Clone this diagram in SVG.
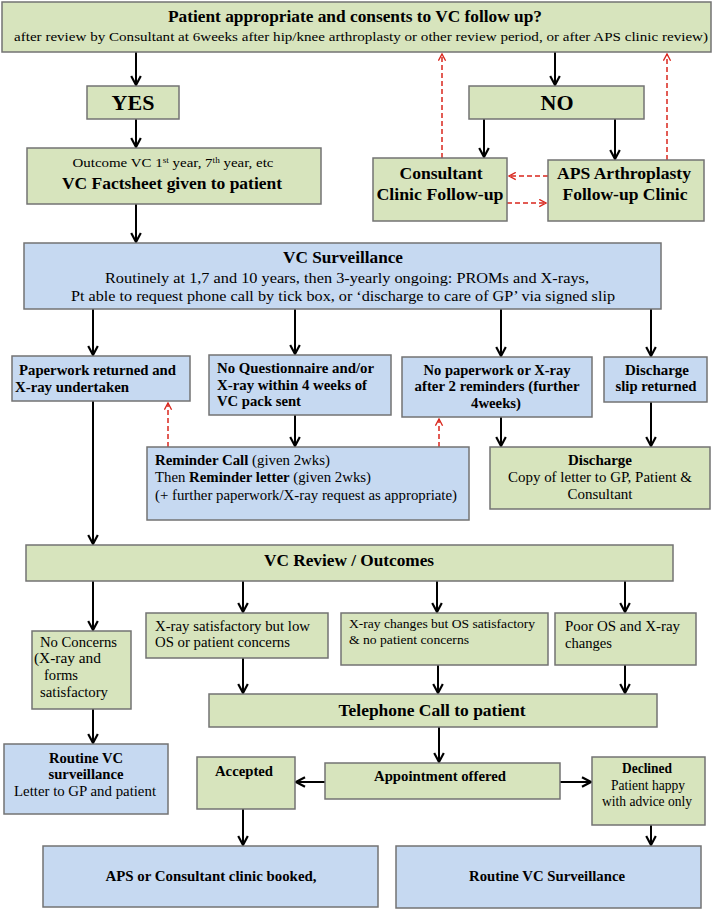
<svg xmlns="http://www.w3.org/2000/svg" width="714" height="911" viewBox="0 0 714 911">
<defs>
<marker id="ab" viewBox="0 0 10 10" refX="9" refY="5" markerWidth="12" markerHeight="12" markerUnits="userSpaceOnUse" orient="auto">
<path d="M1.5,1 L9,5 L1.5,9" fill="none" stroke="#000" stroke-width="1.8"/>
</marker>
<marker id="ar" viewBox="0 0 10 10" refX="9" refY="5" markerWidth="9" markerHeight="9" markerUnits="userSpaceOnUse" orient="auto">
<path d="M1.5,1 L9,5 L1.5,9" fill="none" stroke="#d9261c" stroke-width="1.5"/>
</marker>
</defs>
<style>
.g{fill:#d7e4bd;stroke:#737373;stroke-width:1.5}
.b{fill:#c6d9f1;stroke:#737373;stroke-width:1.5}
text{font-family:"Liberation Serif","Times New Roman",serif;fill:#000}
.c{text-anchor:middle}
.h{font-weight:bold}
.k{stroke:#000;stroke-width:2;fill:none;marker-end:url(#ab)}
.r{stroke:#d9261c;stroke-width:1.5;fill:none;stroke-dasharray:5,3;marker-end:url(#ar)}
</style>
<rect width="714" height="911" fill="#fff"/>

<g id="connectors">
<line class="k" x1="136" y1="52" x2="136" y2="85"/>
<line class="k" x1="136" y1="119" x2="136" y2="147"/>
<line class="k" x1="136" y1="204" x2="136" y2="242"/>
<line class="k" x1="555" y1="52" x2="555" y2="85"/>
<line class="k" x1="484" y1="119" x2="484" y2="157"/>
<line class="k" x1="615" y1="119" x2="615" y2="159"/>
<line class="r" x1="442" y1="158" x2="442" y2="54"/>
<line class="r" x1="667" y1="160" x2="667" y2="54"/>
<line class="r" x1="548" y1="176" x2="509" y2="176"/>
<line class="r" x1="507" y1="203" x2="546" y2="203"/>
<line class="k" x1="93" y1="309" x2="93" y2="355"/>
<line class="k" x1="295" y1="309" x2="295" y2="354"/>
<line class="k" x1="501" y1="309" x2="501" y2="356"/>
<line class="k" x1="651" y1="309" x2="651" y2="356"/>
<line class="k" x1="295" y1="415" x2="295" y2="446"/>
<line class="k" x1="501" y1="417" x2="501" y2="446"/>
<line class="k" x1="651" y1="402" x2="651" y2="446"/>
<line class="r" x1="168" y1="447" x2="168" y2="403"/>
<line class="r" x1="439" y1="447" x2="439" y2="419"/>
<line class="k" x1="93" y1="401" x2="93" y2="544"/>
<line class="k" x1="93" y1="581" x2="93" y2="630"/>
<line class="k" x1="243" y1="581" x2="243" y2="612"/>
<line class="k" x1="437" y1="581" x2="437" y2="612"/>
<line class="k" x1="625" y1="581" x2="625" y2="612"/>
<line class="k" x1="243" y1="658" x2="243" y2="693"/>
<line class="k" x1="438" y1="665" x2="438" y2="693"/>
<line class="k" x1="625" y1="665" x2="625" y2="693"/>
<line class="k" x1="93" y1="709" x2="93" y2="743"/>
<line class="k" x1="439" y1="727" x2="439" y2="762"/>
<line class="k" x1="325" y1="782" x2="296" y2="782"/>
<line class="k" x1="560" y1="782" x2="591" y2="782"/>
<line class="k" x1="243" y1="809" x2="243" y2="845"/>
<line class="k" x1="651" y1="825" x2="651" y2="845"/>
</g>

<g id="n-top">
<rect class="g" x="2" y="2" width="709" height="50"/>
<text class="c h" x="355" y="22" font-size="16" textLength="374" lengthAdjust="spacingAndGlyphs">Patient appropriate and consents to VC follow up?</text>
<text class="c" x="361" y="41" font-size="13" textLength="694" lengthAdjust="spacingAndGlyphs">after review by Consultant at 6weeks after hip/knee arthroplasty or other review period, or after APS clinic review)</text>
</g>

<g id="n-yes">
<rect class="g" x="87" y="86" width="92" height="33"/>
<text class="c h" x="133" y="110" font-size="22">YES</text>
</g>

<g id="n-no">
<rect class="g" x="469" y="86" width="175" height="33"/>
<text class="c h" x="557" y="110" font-size="22">NO</text>
</g>

<g id="n-factsheet">
<rect class="g" x="27" y="148" width="294" height="56"/>
<text class="c" x="173" y="167" font-size="13" textLength="201" lengthAdjust="spacingAndGlyphs">Outcome VC 1<tspan font-size="8" dy="-4">st</tspan><tspan dy="4"> year, 7</tspan><tspan font-size="8" dy="-4">th</tspan><tspan dy="4"> year, etc</tspan></text>
<text class="c h" x="172" y="189" font-size="16" textLength="220" lengthAdjust="spacingAndGlyphs">VC Factsheet given to patient</text>
</g>

<g id="n-consultant">
<rect class="g" x="373" y="158" width="134" height="63"/>
<text class="c h" x="441" y="179" font-size="16" textLength="83" lengthAdjust="spacingAndGlyphs">Consultant</text>
<text class="c h" x="440" y="200" font-size="16" textLength="127" lengthAdjust="spacingAndGlyphs">Clinic Follow-up</text>
</g>

<g id="n-aps">
<rect class="g" x="548" y="160" width="156" height="61"/>
<text class="c h" x="624" y="179" font-size="16" textLength="134" lengthAdjust="spacingAndGlyphs">APS Arthroplasty</text>
<text class="c h" x="625" y="200" font-size="16" textLength="125" lengthAdjust="spacingAndGlyphs">Follow-up Clinic</text>
</g>

<g id="n-surveillance">
<rect class="b" x="24" y="243" width="637" height="66"/>
<text class="c h" x="343" y="263" font-size="16" textLength="120" lengthAdjust="spacingAndGlyphs">VC Surveillance</text>
<text class="c" x="347" y="283" font-size="14.5" textLength="484" lengthAdjust="spacingAndGlyphs">Routinely at 1,7 and 10 years, then 3-yearly ongoing: PROMs and X-rays,</text>
<text class="c" x="343" y="301" font-size="14.5" textLength="544" lengthAdjust="spacingAndGlyphs">Pt able to request phone call by tick box, or ‘discharge to care of GP’ via signed slip</text>
</g>

<g id="n-paperwork">
<rect class="b" x="12" y="356" width="178" height="45"/>
<text class="h" x="19" y="375" font-size="14" textLength="157" lengthAdjust="spacingAndGlyphs">Paperwork returned and</text>
<text class="h" x="15" y="392" font-size="14" textLength="114" lengthAdjust="spacingAndGlyphs">X-ray undertaken</text>
</g>

<g id="n-noquest">
<rect class="b" x="209" y="355" width="182" height="60"/>
<text class="h" x="217" y="373" font-size="14" textLength="157" lengthAdjust="spacingAndGlyphs">No Questionnaire and/or</text>
<text class="h" x="217" y="390" font-size="14" textLength="150" lengthAdjust="spacingAndGlyphs">X-ray within 4 weeks of</text>
<text class="h" x="217" y="406" font-size="14" textLength="84" lengthAdjust="spacingAndGlyphs">VC pack sent</text>
</g>

<g id="n-nopaper">
<rect class="b" x="402" y="357" width="190" height="60"/>
<text class="c h" x="497" y="375" font-size="14" textLength="147" lengthAdjust="spacingAndGlyphs">No paperwork or X-ray</text>
<text class="c h" x="497" y="391" font-size="14" textLength="165" lengthAdjust="spacingAndGlyphs">after 2 reminders (further</text>
<text class="c h" x="496" y="408" font-size="14" textLength="50" lengthAdjust="spacingAndGlyphs">4weeks)</text>
</g>

<g id="n-slip">
<rect class="b" x="604" y="357" width="103" height="45"/>
<text class="c h" x="657" y="375" font-size="14" textLength="64" lengthAdjust="spacingAndGlyphs">Discharge</text>
<text class="c h" x="656" y="391" font-size="14" textLength="81" lengthAdjust="spacingAndGlyphs">slip returned</text>
</g>

<g id="n-reminder">
<rect class="b" x="147" y="447" width="322" height="73"/>
<text x="155" y="465" font-size="14" textLength="175" lengthAdjust="spacingAndGlyphs"><tspan class="h">Reminder Call</tspan> (given 2wks)</text>
<text x="155" y="482" font-size="14" textLength="216" lengthAdjust="spacingAndGlyphs">Then <tspan class="h">Reminder letter</tspan> (given 2wks)</text>
<text x="155" y="500" font-size="14" textLength="302" lengthAdjust="spacingAndGlyphs">(+ further paperwork/X-ray request as appropriate)</text>
</g>

<g id="n-discharge">
<rect class="g" x="490" y="447" width="220" height="62"/>
<text class="c h" x="600" y="465" font-size="14" textLength="64" lengthAdjust="spacingAndGlyphs">Discharge</text>
<text class="c" x="600" y="482" font-size="14" textLength="184" lengthAdjust="spacingAndGlyphs">Copy of letter to GP, Patient &amp;</text>
<text class="c" x="600" y="499" font-size="14" textLength="65" lengthAdjust="spacingAndGlyphs">Consultant</text>
</g>

<g id="n-review">
<rect class="g" x="26" y="545" width="647" height="36"/>
<text class="c h" x="349" y="566" font-size="16" textLength="170" lengthAdjust="spacingAndGlyphs">VC Review / Outcomes</text>
</g>

<g id="n-noconcerns">
<rect class="g" x="32" y="631" width="99" height="78"/>
<text x="40" y="647" font-size="14" textLength="77" lengthAdjust="spacingAndGlyphs">No Concerns</text>
<text x="34" y="663" font-size="14" textLength="67" lengthAdjust="spacingAndGlyphs">(X-ray and</text>
<text x="44" y="680" font-size="14" textLength="34" lengthAdjust="spacingAndGlyphs">forms</text>
<text x="40" y="697" font-size="14" textLength="68" lengthAdjust="spacingAndGlyphs">satisfactory</text>
</g>

<g id="n-lowos">
<rect class="g" x="146" y="613" width="182" height="45"/>
<text x="155" y="631" font-size="14" textLength="155" lengthAdjust="spacingAndGlyphs">X-ray satisfactory but low</text>
<text x="155" y="647" font-size="14" textLength="135" lengthAdjust="spacingAndGlyphs">OS or patient concerns</text>
</g>

<g id="n-xraychanges">
<rect class="g" x="341" y="613" width="207" height="52"/>
<text x="349" y="628" font-size="13" textLength="186" lengthAdjust="spacingAndGlyphs">X-ray changes but OS satisfactory</text>
<text x="349" y="644" font-size="13" textLength="120" lengthAdjust="spacingAndGlyphs">&amp; no patient concerns</text>
</g>

<g id="n-poor">
<rect class="g" x="555" y="613" width="141" height="52"/>
<text x="565" y="631" font-size="14" textLength="115" lengthAdjust="spacingAndGlyphs">Poor OS and X-ray</text>
<text x="565" y="648" font-size="14" textLength="47" lengthAdjust="spacingAndGlyphs">changes</text>
</g>

<g id="n-phone">
<rect class="g" x="209" y="694" width="448" height="33"/>
<text class="c h" x="432" y="716" font-size="16" textLength="187" lengthAdjust="spacingAndGlyphs">Telephone Call to patient</text>
</g>

<g id="n-routine1">
<rect class="b" x="4" y="744" width="164" height="70"/>
<text class="c h" x="86" y="763" font-size="14" textLength="74" lengthAdjust="spacingAndGlyphs">Routine VC</text>
<text class="c h" x="86" y="779" font-size="14" textLength="75" lengthAdjust="spacingAndGlyphs">surveillance</text>
<text class="c" x="85" y="796" font-size="14" textLength="142" lengthAdjust="spacingAndGlyphs">Letter to GP and patient</text>
</g>

<g id="n-appointment">
<rect class="g" x="325" y="763" width="235" height="36"/>
<text class="c h" x="440" y="781" font-size="14.5" textLength="132" lengthAdjust="spacingAndGlyphs">Appointment offered</text>
</g>

<g id="n-accepted">
<rect class="g" x="197" y="757" width="98" height="52"/>
<text class="c h" x="244" y="776" font-size="14" textLength="58" lengthAdjust="spacingAndGlyphs">Accepted</text>
</g>

<g id="n-declined">
<rect class="g" x="592" y="757" width="113" height="68"/>
<text class="c h" x="647" y="773" font-size="14" textLength="50" lengthAdjust="spacingAndGlyphs">Declined</text>
<text class="c" x="648" y="790" font-size="14" textLength="74" lengthAdjust="spacingAndGlyphs">Patient happy</text>
<text class="c" x="647" y="806" font-size="14" textLength="90" lengthAdjust="spacingAndGlyphs">with advice only</text>
</g>

<g id="n-booked">
<rect class="b" x="43" y="846" width="335" height="61"/>
<text class="c h" x="211" y="881" font-size="15" textLength="211" lengthAdjust="spacingAndGlyphs">APS or Consultant clinic booked,</text>
</g>

<g id="n-routine2">
<rect class="b" x="396" y="846" width="305" height="62"/>
<text class="c h" x="547" y="881" font-size="15" textLength="156" lengthAdjust="spacingAndGlyphs">Routine VC Surveillance</text>
</g>
</svg>
